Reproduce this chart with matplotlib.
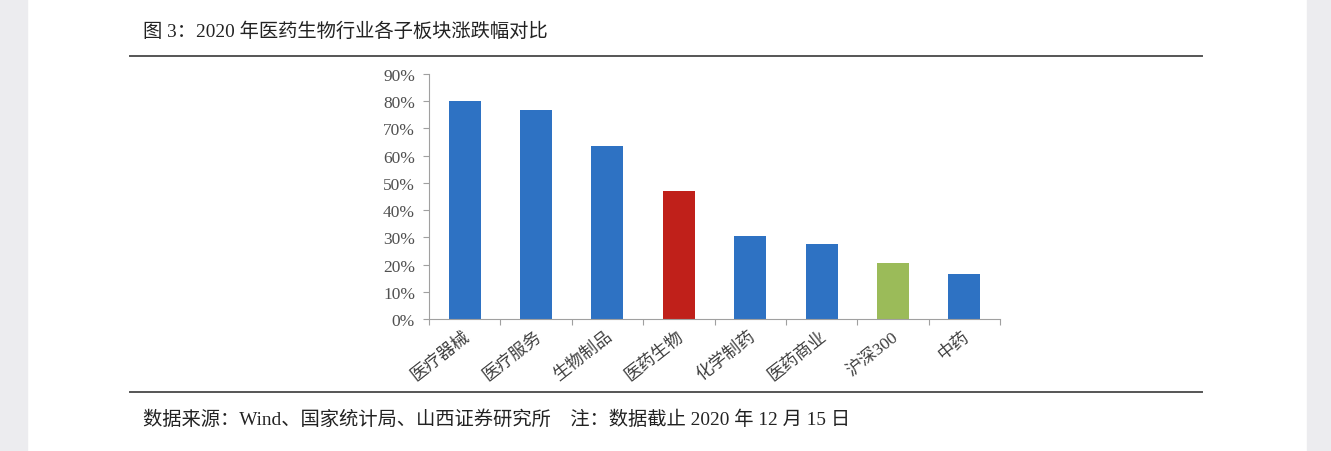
import matplotlib.pyplot as plt
from matplotlib.patches import Rectangle
from matplotlib.lines import Line2D

plt.rcParams['font.family'] = ['Noto Sans CJK SC', 'DejaVu Sans']

categories = ['医疗器械', '医疗服务', '生物制品', '医药生物', '化学制药', '医药商业', '沪深300', '中药']
values = [80.1, 76.6, 63.6, 46.9, 30.5, 27.6, 20.6, 16.5]
colors = ['#2E72C3', '#2E72C3', '#2E72C3', '#C0201A', '#2E72C3', '#2E72C3', '#9BBB59', '#2E72C3']
yticks = [0, 10, 20, 30, 40, 50, 60, 70, 80, 90]

title = '图 3：2020 年医药生物行业各子板块涨跌幅对比'
source = '数据来源：Wind、国家统计局、山西证券研究所    注：数据截止 2020 年 12 月 15 日'

mixed = ['Liberation Serif', 'Noto Sans CJK SC']

W, H = 1331, 452
fig = plt.figure(figsize=(W / 100, H / 100), dpi=100)

# page edges (gray strips left and right)
fig.patches.append(Rectangle((0, 0), 27 / W, 1, transform=fig.transFigure,
                             color='#ECECEF', zorder=0))
fig.patches.append(Rectangle((1307 / W, 0), 1 - 1307 / W, 1, transform=fig.transFigure,
                             color='#ECECEF', zorder=0))

# separator lines
for yy in (57, 393):
    fig.add_artist(Line2D([130 / W, 1202 / W], [1 - yy / H, 1 - yy / H],
                          color='#555555', lw=1.4))

fig.text(143 / W, 1 - 32 / H, title, fontsize=13.9, color='#222222', va='center',
         ha='left', family=mixed)
fig.text(143 / W, 1 - 420 / H, source, fontsize=13.9, color='#222222', va='center',
         ha='left', family=mixed)

ax = fig.add_axes([429 / W, 1 - 320 / H, (1000 - 429) / W, (320 - 75) / H])
x = range(len(categories))
ax.bar(x, values, width=0.45, color=colors, zorder=2)

ax.set_xlim(-0.5, len(categories) - 0.5)
ax.set_ylim(0, 90)
ax.set_yticks(yticks)
ax.set_yticklabels([f'{v}%' for v in yticks], family=['Liberation Serif', 'DejaVu Sans'],
                   fontsize=12.5, color='#505050')
ax.tick_params(axis='y', length=4, width=0.8, color='#A0A0A0', pad=6)

ax.set_xticks([i + 0.5 for i in range(-1, len(categories))])
ax.set_xticklabels([])
ax.tick_params(axis='x', length=4, width=0.8, color='#A0A0A0')
for i, lab in enumerate(categories):
    ax.text(i - 0.02, -3.3, lab, rotation=38, ha='right', va='top', rotation_mode='anchor',
            fontsize=12.5, color='#404040', family=mixed)

for s in ('top', 'right'):
    ax.spines[s].set_visible(False)
for s in ('left', 'bottom'):
    ax.spines[s].set_color('#A0A0A0')
    ax.spines[s].set_linewidth(0.8)

fig.savefig('out.png', dpi=100)
